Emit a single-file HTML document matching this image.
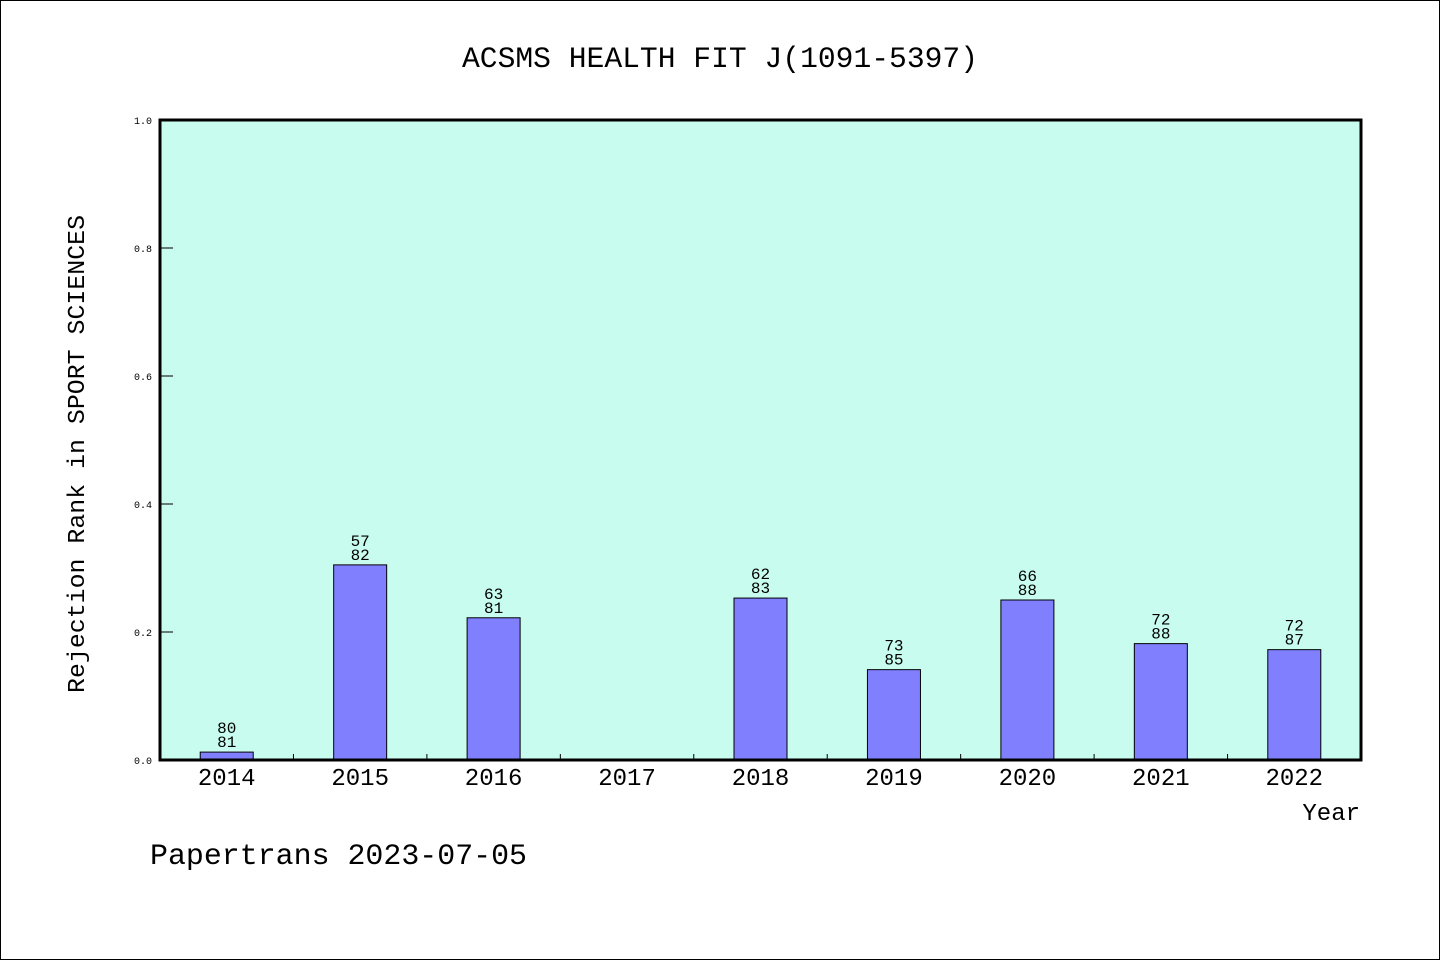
<!DOCTYPE html>
<html><head><meta charset="utf-8"><style>
html,body{margin:0;padding:0;background:#fff;}
svg{display:block;font-family:"Liberation Mono","WenQuanYi Zen Hei",monospace;}
</style></head><body>
<svg width="1440" height="960" viewBox="0 0 1440 960">
<rect x="0.5" y="0.5" width="1439" height="959" fill="#fff" stroke="#000"/>
<text x="720" y="67" font-size="30" text-anchor="middle" textLength="516" lengthAdjust="spacingAndGlyphs">ACSMS HEALTH FIT J(1091-5397)</text>
<rect x="160" y="120" width="1201" height="640" fill="#c8fcee"/>
<g id="yticks"></g>
<g id="bars"></g>
<rect x="160" y="120" width="1201" height="640" fill="none" stroke="#000" stroke-width="3"/>
<g id="xticks"></g>
<text transform="translate(84,454) rotate(-90)" font-size="24" text-anchor="middle" textLength="478" lengthAdjust="spacingAndGlyphs">Rejection Rank in SPORT SCIENCES</text>
<text x="1360" y="820" font-size="24" text-anchor="end">Year</text>
<text x="150" y="864" font-size="30" textLength="377" lengthAdjust="spacingAndGlyphs">Papertrans 2023-07-05</text>
</svg>
<script>
const categories=["2014","2015","2016","2017","2018","2019","2020","2021","2022"];
const ranks=[80,57,63,null,62,73,66,72,72];
const totals=[81,82,81,null,83,85,88,88,87];
const yTicks=[0,0.2,0.4,0.6,0.8,1.0];
const NS="http://www.w3.org/2000/svg";
const X0=160,W=1201,Y0=760,H=640;
const band=W/categories.length;
const xs=i=>X0+band*(i+0.5);
const ys=v=>Y0-v*H;
function mk(tag,attrs,parent,txt){const e=document.createElementNS(NS,tag);for(const k in attrs)e.setAttribute(k,attrs[k]);if(txt!=null)e.textContent=txt;parent.appendChild(e);return e;}
const gy=document.getElementById('yticks'),gb=document.getElementById('bars'),gx=document.getElementById('xticks');
yTicks.forEach(t=>{
  const l=mk('line',{x1:X0,x2:X0+13,y1:ys(t),y2:ys(t),stroke:'#000','stroke-width':1},gy);
  
  
  const tx=mk('text',{x:152,y:ys(t)+4,'font-size':10,'text-anchor':'end'},gy,t.toFixed(1));
  
  
});
categories.forEach((c,i)=>{
  const lab=mk('text',{x:xs(i),y:785,'font-size':24,'text-anchor':'middle'},gx,c);
  
  
  if(i>0){const tk=mk('line',{x1:X0+band*i,x2:X0+band*i,y1:Y0,y2:Y0-6,stroke:'#000','stroke-width':1},gx);
    
    }
  if(ranks[i]==null)return;
  const v=(totals[i]-ranks[i])/totals[i];
  const top=ys(v);
  const r=mk('rect',{x:xs(i)-26.5,y:top,width:53,height:Y0-top,fill:'#8080ff',stroke:'#000','stroke-width':1},gb);
  
  
  const t1=mk('text',{x:xs(i),y:top-19,'font-size':16,'text-anchor':'middle'},gb,String(ranks[i]));
  
  
  const t2=mk('text',{x:xs(i),y:top-5,'font-size':16,'text-anchor':'middle'},gb,String(totals[i]));
  
  
});
</script>
</body></html>
